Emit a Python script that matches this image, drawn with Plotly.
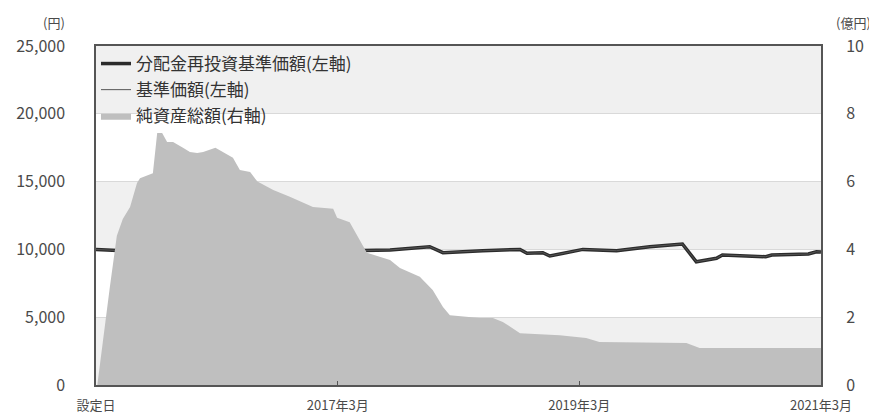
import plotly.graph_objects as go

# Net assets (億円), right axis
na_dates = ["2015-03-05", "2015-03-20", "2015-04-12", "2015-05-03", "2015-05-21", "2015-06-12",
            "2015-07-03", "2015-07-12", "2015-08-20", "2015-09-02", "2015-09-17", "2015-10-02",
            "2015-10-20", "2015-11-19", "2015-12-10", "2016-01-01", "2016-01-19", "2016-02-25",
            "2016-03-19", "2016-04-18", "2016-05-09", "2016-06-09", "2016-07-01", "2016-08-18",
            "2016-10-07", "2016-12-16", "2017-02-15", "2017-02-27", "2017-04-06", "2017-05-06",
            "2017-05-28", "2017-08-06", "2017-09-05", "2017-11-04", "2017-12-13", "2018-01-13",
            "2018-02-03", "2018-05-04", "2018-06-13", "2018-07-13", "2018-09-03", "2019-01-01",
            "2019-03-22", "2019-05-01", "2019-11-01", "2020-01-19", "2020-02-28", "2021-03-01"]
na_values = [0.0, 1.2, 2.9, 4.4, 4.9, 5.25,
             5.96, 6.1, 6.25, 7.43, 7.43, 7.17,
             7.17, 7.0, 6.87, 6.84, 6.87, 7.0,
             6.87, 6.7, 6.34, 6.28, 6.0, 5.75,
             5.55, 5.25, 5.2, 4.93, 4.8, 4.28,
             3.9, 3.69, 3.45, 3.19, 2.8, 2.3,
             2.06, 1.98, 1.98, 1.86, 1.53, 1.47,
             1.39, 1.27, 1.24, 1.24, 1.09, 1.09]

# NAV (円), left axis — reinvested and base price (no distributions, identical)
nav_dates = ["2015-03-01", "2015-05-21", "2015-07-12", "2015-08-02", "2015-10-20", "2015-12-10",
             "2016-01-01", "2016-01-31", "2016-03-19", "2016-06-18", "2016-07-19", "2016-10-07",
             "2016-11-16", "2017-03-16", "2017-04-06", "2017-08-06", "2017-12-04", "2018-01-13",
             "2018-05-13", "2018-09-03", "2018-09-24", "2018-11-11", "2018-12-02", "2019-03-12",
             "2019-06-22", "2019-09-30", "2020-01-07", "2020-01-28", "2020-02-18", "2020-04-19",
             "2020-05-07", "2020-09-15", "2020-10-03", "2021-01-22", "2021-02-15", "2021-03-01"]
nav_reinvest = [10000, 9900, 10200, 9590, 9760, 9660,
                9370, 9660, 9590, 9760, 9515, 9420,
                9660, 9710, 9905, 9956, 10200, 9760,
                9905, 10000, 9710, 9760, 9515, 10000,
                9905, 10200, 10400, 9710, 9090, 9340,
                9590, 9460, 9590, 9660, 9830, 9800]
nav_base = list(nav_reinvest)

x_tickvals = ["2015-03-01", "2017-03-01", "2019-03-01", "2021-03-01"]
x_ticktext = ["設定日", "2017年3月", "2019年3月", "2021年3月"]
y_left_ticks = [0, 5000, 10000, 15000, 20000, 25000]
y_right_ticks = [0, 2, 4, 6, 8, 10]

FONT = "Noto Sans CJK JP"
TXT = "#4a4a4a"
CLEAR = "rgba(0,0,0,0)"

fig = go.Figure()
fig.add_trace(go.Scatter(
    x=na_dates, y=na_values, yaxis="y2", mode="lines", fill="tozeroy",
    fillcolor="#bfbfbf", line=dict(width=0, color="#bfbfbf"),
    name="純資産総額(右軸)", legendgroup="c", legendrank=3))
fig.add_trace(go.Scatter(
    x=nav_dates, y=nav_reinvest, mode="lines",
    line=dict(width=3.5, color="#2b2b2b"),
    name="分配金再投資基準価額(左軸)", legendgroup="a", legendrank=1))
fig.add_trace(go.Scatter(
    x=nav_dates, y=nav_base, mode="lines",
    line=dict(width=1, color="#555555"),
    name="基準価額(左軸)", legendgroup="b", legendrank=2))

shapes = []
for lo, hi in [(0, 5000), (10000, 15000), (20000, 25000)]:
    shapes.append(dict(type="rect", xref="paper", yref="y", x0=0, x1=1, y0=lo, y1=hi,
                       fillcolor="#f0f0f0", line=dict(width=0), layer="below"))

fig.update_layout(
    width=869, height=410,
    margin=dict(l=88, r=56, t=38, b=33),
    paper_bgcolor="white", plot_bgcolor="white",
    font=dict(family=FONT, size=15, color=TXT),
    shapes=shapes,
    showlegend=True,
    legend=dict(x=0.0, y=1.0, xanchor="left", yanchor="top",
                bgcolor=CLEAR, borderwidth=0,
                font=dict(family=FONT, size=17, color="#333333"),
                tracegroupgap=1, traceorder="grouped", itemwidth=30),
    xaxis=dict(type="date", range=["2015-03-01", "2021-03-01"],
               tickvals=x_tickvals, ticktext=x_ticktext,
               ticks="inside", ticklen=4, tickcolor="#555555",
               ticklabelstandoff=8, automargin=False,
               showgrid=False, showline=True, linecolor="#555555", linewidth=1.5,
               mirror=True, tickfont=dict(size=13, color=TXT), zeroline=False),
    yaxis=dict(range=[0, 25000], tickvals=y_left_ticks, tickformat=",",
               showgrid=True, gridcolor="#d9d9d9", gridwidth=1,
               showline=True, linecolor="#555555", linewidth=1.5, mirror=True,
               ticks="outside", ticklen=26, tickcolor=CLEAR, zeroline=False,
               automargin=False, tickfont=dict(size=16, color=TXT)),
    yaxis2=dict(range=[0, 10], tickvals=y_right_ticks, overlaying="y", side="right",
                showgrid=False, showline=False,
                ticks="outside", ticklen=21, tickcolor=CLEAR, automargin=False,
                zeroline=False, tickfont=dict(size=16, color=TXT)),
    annotations=[
        dict(text="(円)", xref="paper", yref="paper", x=-0.058, y=1.0, yshift=24,
             xanchor="center", yanchor="middle", showarrow=False,
             font=dict(size=13, color=TXT)),
        dict(text="(億円)", xref="paper", yref="paper", x=1.0455, y=1.0, yshift=24,
             xanchor="center", yanchor="middle", showarrow=False,
             font=dict(size=13, color=TXT)),
    ],
)

fig.write_html("out.html")
